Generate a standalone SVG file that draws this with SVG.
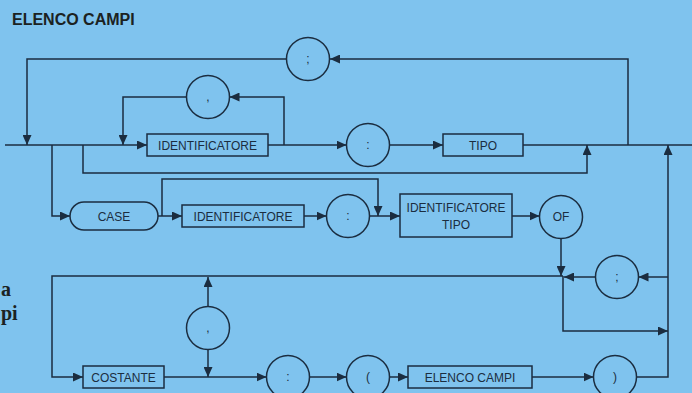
<svg xmlns="http://www.w3.org/2000/svg" width="692" height="393" viewBox="0 0 692 393">
<defs>
<marker id="arr" markerUnits="userSpaceOnUse" markerWidth="11" markerHeight="9" refX="10" refY="4.5" orient="auto">
<path d="M0,0 L10,4.5 L0,9 z" fill="#1b2d40"/>
</marker>
<style>
.ln{fill:none;stroke:#1b2d40;stroke-width:1.5}
.ar{fill:none;stroke:#1b2d40;stroke-width:1.5;marker-end:url(#arr)}
.bx{fill:none;stroke:#1b2d40;stroke-width:1.5}
.t{font-family:"Liberation Sans",Arial,sans-serif;font-size:12px;fill:#1b2d40;text-anchor:middle}
.p{font-family:"Liberation Sans",Arial,sans-serif;font-size:12px;fill:#1b2d40;text-anchor:middle}
</style>
</defs>
<rect width="692" height="393" fill="#7fc3ee"/>
<text x="12" y="25" font-family="Liberation Sans, Arial, sans-serif" font-size="16" font-weight="bold" fill="#1b2222">ELENCO CAMPI</text>
<text x="1" y="296" font-family="Liberation Serif, serif" font-size="20" font-weight="bold" fill="#1b2222">a</text>
<text x="1" y="320" font-family="Liberation Serif, serif" font-size="20" font-weight="bold" fill="#1b2222">pi</text>
<g id="connectors">
<path class="ar" d="M5,145 H147"/>
<path class="ar" d="M628,145 V59 H330"/>
<path class="ar" d="M286.5,59 H27 V145"/>
<path class="ar" d="M268,145 H346.5"/>
<path class="ar" d="M284,145 V97 H229.5"/>
<path class="ar" d="M186.5,97 H123 V145"/>
<path class="ar" d="M389.5,145 H443"/>
<path class="ln" d="M523,145 H692"/>
<path class="ar" d="M52,145 V216 H70"/>
<path class="ar" d="M83,145 V173 H587 V145"/>
<path class="ar" d="M158,216 H182"/>
<path class="ar" d="M162,216 V179 H378 V216"/>
<path class="ar" d="M304,216 H326.5"/>
<path class="ar" d="M369.5,216 H400"/>
<path class="ar" d="M512,216 H539.5"/>
<path class="ar" d="M561,238.5 V276"/>
<path class="ar" d="M668,277 H638.5"/>
<path class="ar" d="M595.5,277 H564"/>
<path class="ar" d="M563,276 V331 H668"/>
<path class="ar" d="M563,276 H52 V377 H83"/>
<path class="ar" d="M164,377 H266.5"/>
<path class="ar" d="M208,306 V277"/>
<path class="ar" d="M208,350 V377"/>
<path class="ar" d="M309.5,377 H346.5"/>
<path class="ar" d="M389.5,377 H408"/>
<path class="ar" d="M532,377 H593.5"/>
<path class="ar" d="M636.5,377 H668 V145"/>
</g>
<g id="semi-top"><circle class="bx" cx="308" cy="59" r="21.5"/><text class="p" x="308" y="63">;</text></g>
<g id="comma-top"><circle class="bx" cx="208" cy="97" r="21.5"/><text class="p" x="208" y="101">,</text></g>
<g id="identificatore1"><rect class="bx" x="147" y="134" width="121" height="22"/><text class="t" x="207.5" y="149.5">IDENTIFICATORE</text></g>
<g id="colon1"><circle class="bx" cx="368" cy="145" r="21.5"/><text class="p" x="368" y="149">:</text></g>
<g id="tipo"><rect class="bx" x="443" y="134" width="80" height="22"/><text class="t" x="483" y="149.5">TIPO</text></g>
<g id="case"><rect class="bx" x="70" y="202" width="88" height="28" rx="14" ry="14"/><text class="t" x="114" y="220.5">CASE</text></g>
<g id="identificatore2"><rect class="bx" x="182" y="205" width="122" height="22"/><text class="t" x="243" y="220.5">IDENTIFICATORE</text></g>
<g id="colon2"><circle class="bx" cx="348" cy="216" r="21.5"/><text class="p" x="348" y="220">:</text></g>
<g id="identificatore-tipo"><rect class="bx" x="400" y="194" width="112" height="43"/><text class="t" x="456" y="212">IDENTIFICATORE</text><text class="t" x="456" y="229">TIPO</text></g>
<g id="of"><circle class="bx" cx="561" cy="217" r="21.5"/><text class="t" x="561" y="221" font-size="11">OF</text></g>
<g id="semi-right"><circle class="bx" cx="617" cy="277" r="21.5"/><text class="p" x="617" y="281">;</text></g>
<g id="comma-bottom"><circle class="bx" cx="208" cy="328" r="21.5"/><text class="p" x="208" y="332">,</text></g>
<g id="costante"><rect class="bx" x="83" y="366" width="81" height="22"/><text class="t" x="123.5" y="381.5">COSTANTE</text></g>
<g id="colon3"><circle class="bx" cx="288" cy="377" r="21.5"/><text class="p" x="288" y="381">:</text></g>
<g id="paren-open"><circle class="bx" cx="368" cy="377" r="21.5"/><text class="p" x="368" y="381">(</text></g>
<g id="elenco-campi"><rect class="bx" x="408" y="366" width="124" height="22"/><text class="t" x="470" y="381.5">ELENCO CAMPI</text></g>
<g id="paren-close"><circle class="bx" cx="615" cy="377" r="21.5"/><text class="p" x="615" y="381">)</text></g>
</svg>
